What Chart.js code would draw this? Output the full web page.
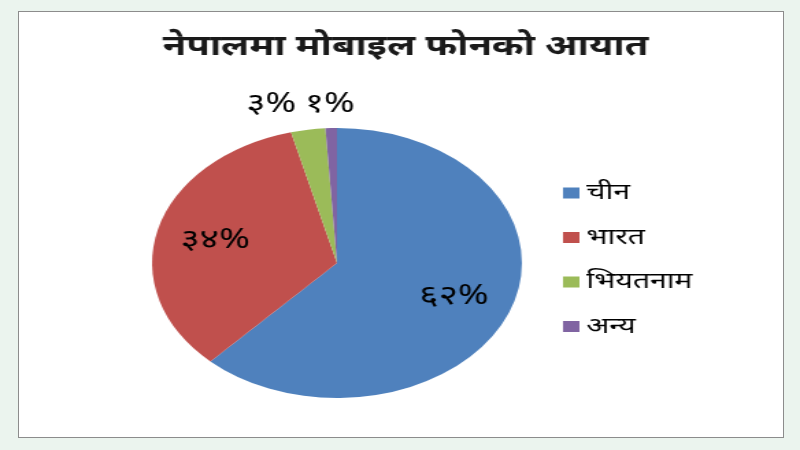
<!DOCTYPE html>
<html>
<head>
<meta charset="utf-8">
<script src="https://cdn.jsdelivr.net/npm/chart.js@4.4.0/dist/chart.umd.min.js"></script>
<style>
  html, body { margin: 0; padding: 0; background: #ebf4ee; overflow: hidden; }
  #frame { position: absolute; left: 18px; top: 11px; width: 764px; height: 425px; background: #ffffff; border: 1px solid #8c8c8c; }
  #myChart { position: absolute; left: 0; top: 0; display: block; }
</style>
</head>
<body>
<div id="frame"></div>
<!-- drawn narrow and stretched sideways, like the original slide picture -->
<canvas id="myChart" width="584" height="450" style="width:800px;height:450px"></canvas>
<script>
const chartTitle = 'नेपालमा मोबाइल फोनको आयात'
const labels1 = ['चीन', 'भारत', 'भियतनाम', 'अन्य']
const values1 = [62, 34, 3, 1]
const pctLabels = ['६२%', '३४%', '३%', '१%']
const colors1 = ['#4f81bd', '#c0504d', '#9bbb59', '#8064a2']

const FONT = "'Noto Sans', 'Noto Sans Devanagari', sans-serif"

// percentage labels
const pctPlugin = {
	id: 'pct',
	afterDatasetsDraw(chart) {
		const ctx = chart.ctx
		const meta = chart.getDatasetMeta(0)
		ctx.save()
		ctx.font = '27px ' + FONT
		ctx.fillStyle = '#000000'
		ctx.textAlign = 'center'
		ctx.textBaseline = 'middle'
		meta.data.forEach((arc, i) => {
			const mid = (arc.startAngle + arc.endAngle) / 2
			const r = arc.outerRadius
			let x, y
			if (values1[i] >= 10) {
				x = arc.x + Math.cos(mid) * r * 0.68
				y = arc.y + Math.sin(mid) * r * 0.68
			} else {
				// small slices go above the pie, spread out sideways
				x = arc.x + Math.cos(mid) * r + (i == 2 ? -27 : -1)
				y = arc.y - r - 24
			}
			ctx.fillText(pctLabels[i], x, y)
		})
		ctx.restore()
	}
}

// title across the whole slide + legend on the right
const textPlugin = {
	id: 'texts',
	afterDraw(chart) {
		const ctx = chart.ctx
		ctx.save()
		ctx.font = 'bold 28px ' + FONT
		ctx.fillStyle = '#1a1a1a'
		ctx.textAlign = 'center'
		ctx.textBaseline = 'middle'
		ctx.fillText(chartTitle, 296, 47)

		ctx.font = '22px ' + FONT
		ctx.textAlign = 'left'
		labels1.forEach((l, i) => {
			const y = 193 + i * 44.5
			ctx.fillStyle = colors1[i]
			ctx.fillRect(411, y - 5.5, 12, 11)
			ctx.fillStyle = '#000000'
			ctx.fillText(l, 428, y)
		})
		ctx.restore()
	}
}

let myChart1 = document.getElementById('myChart').getContext('2d')

let chart1 = new Chart(myChart1, {
	type: 'pie',
	data: {
		labels: labels1,
		datasets: [{
			data: values1,
			backgroundColor: colors1,
			borderWidth: 0,
			radius: 135
		}]
	},
	options: {
		responsive: false,
		animation: false,
		layout: {
			padding: { left: 20, right: 112, top: 76, bottom: 0 }
		},
		plugins: {
			title: { display: false },
			legend: { display: false },
			tooltip: { enabled: false }
		}
	},
	plugins: [pctPlugin, textPlugin]
})
</script>
</body>
</html>
